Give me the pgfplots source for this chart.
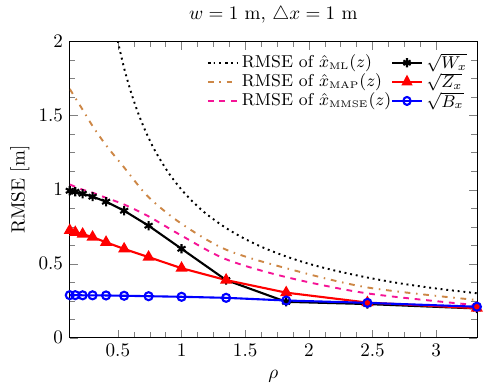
\documentclass[border=0pt]{standalone}
\usepackage{pgfplots}
\pgfplotsset{compat=1.18}
\definecolor{mapbrown}{RGB}{205,135,70}
\definecolor{mmsepink}{RGB}{245,20,150}
\begin{document}
\begin{tikzpicture}
\begin{axis}[
  scale only axis,
  width=213pt, height=155pt,
  xmin=0.122, xmax=3.32, ymin=0, ymax=2,
  xtick={0.5,1,1.5,2,2.5,3}, ytick={0,0.5,1,1.5,2},
  minor tick num=3,
  title={$w=1$ m, $\triangle x=1$ m},
  xlabel={$\rho$}, ylabel={RMSE [m]},
  ylabel shift=-2pt,
  legend columns=2, legend cell align=left,
  legend image post style={xscale=0.9},
  legend style={at={(1.0,0.975)}, anchor=north east, draw=none, fill=none,
    font=\small, nodes={inner ysep=0.3pt},
    /tikz/every even column/.append style={column sep=-2pt}},
]
\addplot[black, line width=1pt, dotted, smooth] coordinates {(0.48,2.08) (0.5,2.0) (0.549,1.82) (0.6,1.667) (0.65,1.538) (0.7,1.429) (0.741,1.35) (0.8,1.25) (0.9,1.111) (1.0,1.0) (1.1,0.909) (1.2,0.833) (1.35,0.741) (1.5,0.667) (1.65,0.606) (1.822,0.549) (2.0,0.5) (2.2,0.455) (2.46,0.407) (2.7,0.37) (3.0,0.333) (3.32,0.301)};
\addlegendentry{RMSE of $\hat{x}_{\scriptscriptstyle\mathrm{ML}}(z)$}
\addplot[black, line width=1.1pt, mark=asterisk, mark size=2.4pt] coordinates {(0.122,0.993) (0.165,0.986) (0.223,0.973) (0.301,0.953) (0.407,0.919) (0.549,0.858) (0.741,0.757) (1.0,0.601) (1.35,0.39) (1.822,0.243) (2.46,0.228) (3.32,0.198)};
\addlegendentry{$\sqrt{W_x}$}
\addplot[mapbrown, line width=1pt, dash pattern=on 3pt off 3pt on 0.8pt off 3pt, smooth] coordinates {(0.122,1.68) (0.165,1.62) (0.223,1.54) (0.301,1.43) (0.407,1.30) (0.549,1.15) (0.741,0.95) (1.0,0.77) (1.35,0.595) (1.822,0.47) (2.46,0.34) (3.32,0.255)};
\addlegendentry{RMSE of $\hat{x}_{\scriptscriptstyle\mathrm{MAP}}(z)$}
\addplot[red, line width=1.1pt, mark=triangle*, mark size=2.6pt] coordinates {(0.122,0.725) (0.165,0.712) (0.223,0.70) (0.301,0.68) (0.407,0.645) (0.549,0.60) (0.741,0.545) (1.0,0.47) (1.35,0.39) (1.822,0.305) (2.46,0.238) (3.32,0.20)};
\addlegendentry{$\sqrt{Z_x}$}
\addplot[mmsepink, line width=1pt, dashed, smooth] coordinates {(0.122,1.035) (0.165,1.02) (0.223,1.0) (0.301,0.98) (0.407,0.945) (0.549,0.90) (0.741,0.82) (1.0,0.69) (1.35,0.53) (1.822,0.41) (2.46,0.30) (3.32,0.22)};
\addlegendentry{RMSE of $\hat{x}_{\scriptscriptstyle\mathrm{MMSE}}(z)$}
\addplot[blue, line width=1.1pt, mark=o, mark size=2.1pt] coordinates {(0.122,0.288) (0.165,0.288) (0.223,0.287) (0.301,0.287) (0.407,0.286) (0.549,0.284) (0.741,0.281) (1.0,0.277) (1.35,0.27) (1.822,0.252) (2.46,0.236) (3.32,0.21)};
\addlegendentry{$\sqrt{B_x}$}
\end{axis}
\path (current bounding box.east) ++(2pt,0);
\path (current bounding box.west) ++(-2pt,0);
\end{tikzpicture}
\end{document}
